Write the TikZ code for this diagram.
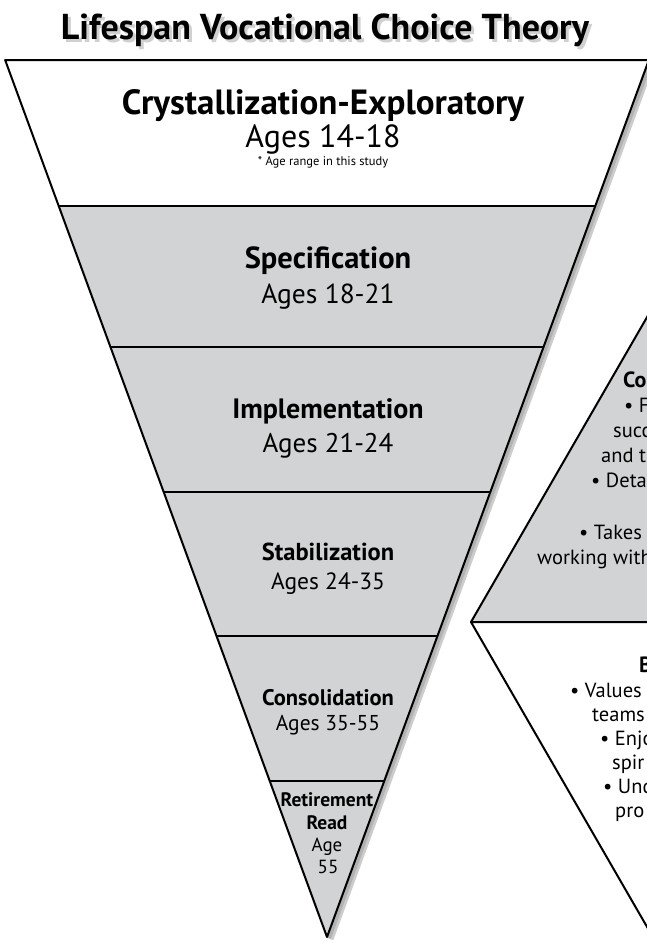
\documentclass[tikz,border=0pt]{standalone}
\usepackage{fontspec}
\setmainfont{PT Sans}
\usetikzlibrary{positioning}
\definecolor{bandgray}{RGB}{209,211,212}
\tikzset{
  band/.style={fill=bandgray},
  edge/.style={line width=2pt, line join=round},
  head/.style={font=\bfseries\fontsize{#1}{#1}\selectfont, anchor=base, inner sep=0pt},
  ages/.style={font=\fontsize{#1}{#1}\selectfont, anchor=base, inner sep=0pt},
  frag/.style={font=\fontsize{20.5}{20.5}\selectfont, anchor=base west, inner sep=0pt},
  fraghead/.style={font=\bfseries\fontsize{22}{22}\selectfont, anchor=base west, inner sep=0pt}
}
\begin{document}
\begin{tikzpicture}[x=1pt, y=-1pt]
  \useasboundingbox (0,0) rectangle (647,943);
  \fill[white] (0,0) rectangle (647,943);
  \clip (0,0) rectangle (647,943);
  % title with its shadow
  \node[head=36, text=black!30, opacity=0.6] (titleshadow) at (328,42) {Lifespan Vocational Choice Theory};
  \node[head=36] (title) at (325,39) {Lifespan Vocational Choice Theory};
  % funnel corners
  \foreach \n/\y in {0/60,1/206,2/347,3/492,4/636,5/781}{
    \coordinate (l\n) at ({327-(937-\y)*0.367},\y);
    \coordinate (r\n) at ({327+(937-\y)*0.367},\y);
  }
  \coordinate (apex) at (327,937);
  \draw[black!20, line width=7pt] ([shift={(3,2)}]r0) -- ([shift={(3,2)}]apex);
  \draw[black!30, line width=4pt] ([shift={(2,1)}]r0) -- ([shift={(2,1)}]apex);
  \fill[band] (l1) -- (r1) -- (apex) -- cycle;
  \foreach \n in {1,...,5}
    \draw[edge] (l\n) -- (r\n);
  \draw[edge] (l0) -- (r0) -- (apex) -- cycle;
  % stages
  \node[head=35] (crys) at (323,114) {Crystallization-Exploratory};
  \node[ages=32] (crysage) at (323,147) {Ages 14-18};
  \node[ages=12.5] (crysnote) at (323,165) {* Age range in this study};
  \node[head=30.5] (spec) at (328,268) {Specification};
  \node[ages=27.5] (specage) at (328,303) {Ages 18-21};
  \node[head=28] (impl) at (328,418) {Implementation};
  \node[ages=27] (implage) at (328,452) {Ages 21-24};
  \node[head=24.5] (stab) at (328,560) {Stabilization};
  \node[ages=23.5] (stabage) at (328,589) {Ages 24-35};
  \node[head=22.5] (cons) at (328,705) {Consolidation};
  \node[ages=21.5] (consage) at (328,730) {Ages 35-55};
  \node[head=19.5] (reti) at (327,806) {Retirement};
  \node[head=19.5] (read) at (327,829) {Read};
  \node[ages=19] (retiage) at (327,851) {Age};
  \node[ages=19] (retinum) at (328,873) {55};
  % the two side triangles
  \coordinate (v) at (471,622);
  \draw[edge, band] (v) -- ++(-60:400) coordinate (vtop) -- ++(60:400) coordinate (vright) -- cycle;
  \draw[edge, fill=white] (v) -- ++(60:400) coordinate (vbot) -- (vright) -- cycle;
  % cut-off texts on the right
  \node[fraghead] (co) at (623,387) {Co};
  \node[frag] (co1) at (624,412) {• F};
  \node[frag] (co2) at (613,437) {succ};
  \node[frag] (co3) at (601,462) {and t};
  \node[frag] (co4) at (591,487) {• Deta};
  \node[frag] (co5) at (579,539) {• Takes p};
  \node[frag] (co6) at (537,564) {working with};
  \node[fraghead] (b) at (639,672) {B};
  \node[frag] (b1) at (570,697) {• Values};
  \node[frag] (b2) at (592,721) {teams};
  \node[frag] (b3) at (600,745) {• Enjo};
  \node[frag] (b4) at (612,769) {spir};
  \node[frag] (b5) at (603,793) {• Und};
  \node[frag] (b6) at (615,817) {pro};
\end{tikzpicture}
\end{document}
